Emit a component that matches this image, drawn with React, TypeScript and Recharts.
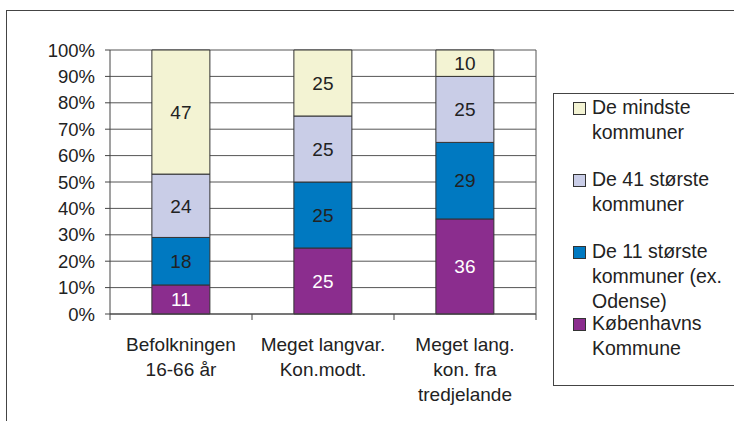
import React from 'react';
import { BarChart, Bar, XAxis, YAxis, CartesianGrid, LabelList } from 'recharts';

const categories = ['Befolkningen\n16-66 år', 'Meget langvar.\nKon.modt.', 'Meget lang.\nkon. fra\ntredjelande'];
const kobenhavn = [11, 25, 36];
const elleve = [18, 25, 29];
const fyrreen = [24, 25, 25];
const mindste = [47, 25, 10];
const yTicks = [0, 10, 20, 30, 40, 50, 60, 70, 80, 90, 100];

const seriesInfo = [
  { key: 'kbh', name: 'Københavns\nKommune', color: '#8B2D8E', text: '#ffffff' },
  { key: 'elleve', name: 'De 11 største\nkommuner (ex.\nOdense)', color: '#0079C1', text: '#222222' },
  { key: 'fyrreen', name: 'De 41 største\nkommuner', color: '#C9CDE7', text: '#222222' },
  { key: 'mindste', name: 'De mindste\nkommuner', color: '#F3F3D3', text: '#222222' },
];

const data = categories.map((c, i) => ({
  cat: c,
  kbh: kobenhavn[i],
  elleve: elleve[i],
  fyrreen: fyrreen[i],
  mindste: mindste[i],
}));

const FONT = '"Liberation Sans", Arial, sans-serif';
const BAND = 142;

const XTick = ({ x, y, payload, index }: any) => {
  const lines = String(payload.value).split('\n');
  return (
    <g>
      <line x1={x - BAND / 2} x2={x - BAND / 2} y1={y - 8} y2={y - 2} stroke="#444" />
      {index === categories.length - 1 && (
        <line x1={x + BAND / 2} x2={x + BAND / 2} y1={y - 8} y2={y - 2} stroke="#444" />
      )}
      <text x={x} y={y + 29} textAnchor="middle" fill="#222" fontSize={19} fontFamily={FONT}>
        {lines.map((l, i) => (
          <tspan key={i} x={x} dy={i === 0 ? 0 : 25}>{l}</tspan>
        ))}
      </text>
    </g>
  );
};

const Legend = () => {
  const order = [...seriesInfo].reverse();
  return (
    <div style={{ position: 'absolute', left: 553, top: 93, width: 200, height: 293, border: '1px solid #444', boxSizing: 'border-box', fontFamily: FONT, fontSize: 19.5, color: '#222' }}>
      {order.map((s, i) => (
        <div key={s.key} style={{ position: 'absolute', left: 0, top: 1 + i * 72, width: 180 }}>
          <div style={{ position: 'absolute', left: 19, top: 7, width: 11, height: 11, background: s.color, border: '1px solid #333' }} />
          <div style={{ position: 'absolute', left: 38, top: 0, lineHeight: '25px', whiteSpace: 'pre' }}>{s.name}</div>
        </div>
      ))}
    </div>
  );
};

export default function App() {
  return (
    <div style={{ position: 'fixed', left: 0, top: 0, width: 734, height: 421, background: '#fff', overflow: 'hidden' }}>
      <div style={{ position: 'absolute', left: 6, top: 10, width: 740, height: 420, borderLeft: '1px solid #444', borderTop: '1px solid #444' }} />
      <BarChart
        width={734}
        height={421}
        data={data}
        margin={{ top: 50, right: 198, left: 50, bottom: 0 }}
        barCategoryGap="29.5%"
        style={{ position: 'absolute', left: 0, top: 0 }}
      >
        <CartesianGrid
          stroke="#555"
          verticalCoordinatesGenerator={({ offset }: any) => [offset.left + offset.width]}
        />
        <XAxis
          dataKey="cat"
          height={107}
          interval={0}
          tick={<XTick />}
          tickLine={false}
          axisLine={{ stroke: '#444' }}
        />
        <YAxis
          width={60}
          domain={[0, 100]}
          ticks={yTicks}
          tickFormatter={(v: number) => `${v}%`}
          tick={{ fill: '#222', fontSize: 18.5, fontFamily: FONT, dx: -8 }}
          tickSize={5}
          tickLine={{ stroke: '#444' }}
          axisLine={{ stroke: '#444' }}
          interval={0}
        />
        {seriesInfo.map((s) => (
          <Bar key={s.key} dataKey={s.key} stackId="a" fill={s.color} stroke="#333" strokeWidth={1} isAnimationActive={false}>
            <LabelList dataKey={s.key} position="center" fill={s.text} fontSize={19} fontFamily={FONT} />
          </Bar>
        ))}
      </BarChart>
      <Legend />
    </div>
  );
}
